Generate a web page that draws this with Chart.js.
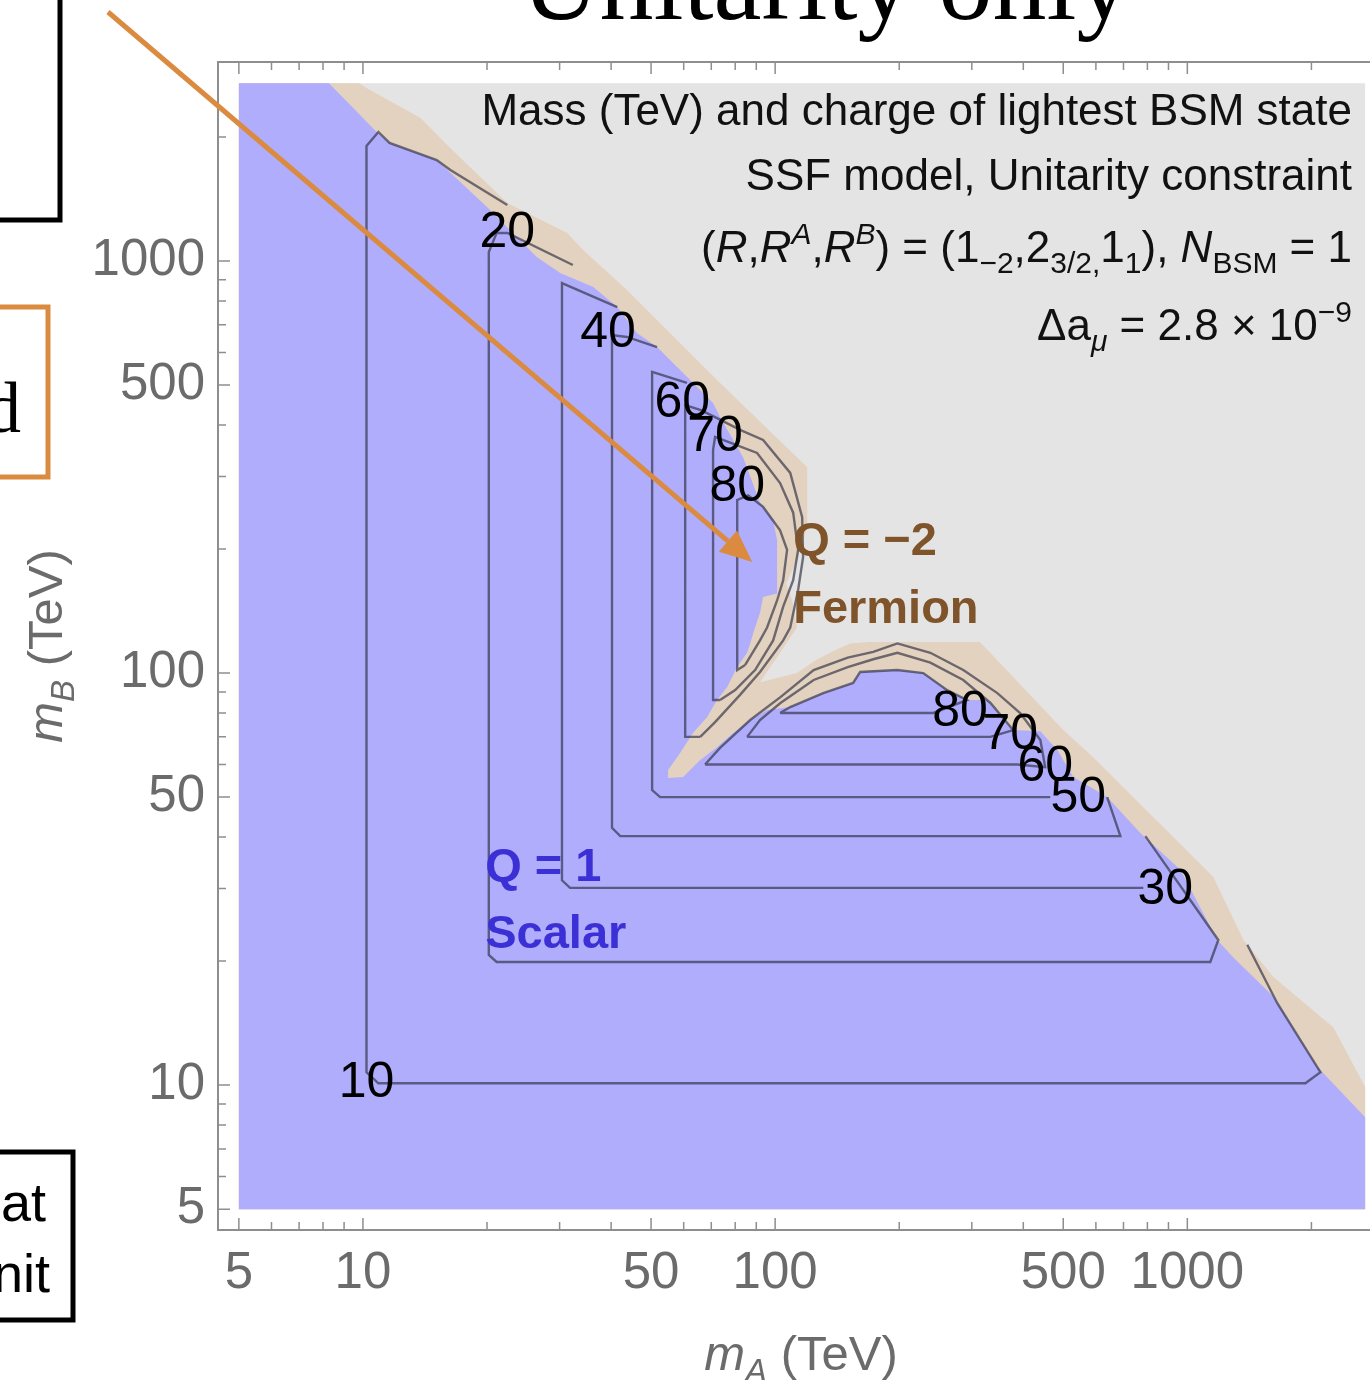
<!DOCTYPE html>
<html>
<head>
<meta charset="utf-8">
<title>Mass and charge of lightest BSM state</title>
<script src="https://cdn.jsdelivr.net/npm/chart.js@4.4.1/dist/chart.umd.min.js"></script>
<style>
  html, body { margin: 0; padding: 0; background: #fff; overflow: hidden; }
  #wrap { position: absolute; left: 0; top: 0; width: 1390px; height: 1380px; }
</style>
</head>
<body>
<div id="wrap"><canvas id="massChart" width="1390" height="1380"></canvas></div>
<script>
'use strict';

// tick values (TeV), same on both axes
const majorTicks = [5, 10, 50, 100, 500, 1000];
const minorTicks = [6, 7, 8, 9, 20, 30, 40, 60, 70, 80, 90, 200, 300, 400, 600, 700, 800, 900, 2000];

// regions, [mA, mB] in TeV
const excludedRegion = [[5, 5], [5, 2700], [2700, 2700], [2700, 5]];

const fermionRegion = [
  [5, 5], [5, 2700], [9.8, 2700], [10.2, 2630], [13.8, 2224], [16.0, 1912], [22.4, 1383],
  [31.3, 1169], [34.2, 1063], [43.7, 850], [73.5, 506], [119.6, 316], [119.6, 226],
  [113, 188], [106.3, 165], [110, 150], [113, 129], [91.9, 95], [113, 100], [126.5, 108],
  [141, 114], [152, 118], [170, 119], [314, 119], [500, 72.7], [591, 62.5], [827, 44.7],
  [1156, 32.0], [1368, 22.5], [1617, 18.3], [2262, 13.8], [2700, 9.9], [2700, 5]
];

const scalarRegion = [
  [5, 5], [5, 2700], [8.27, 2700], [10.8, 2056], [11.6, 1934], [15.1, 1758], [20.0, 1352],
  [26.4, 1023], [30.1, 935], [36.2, 865], [41.4, 773], [46.2, 669], [51.7, 618], [62.2, 514],
  [70.7, 452], [73.5, 418], [83.6, 334], [91.9, 259], [98.9, 235], [101.1, 210], [101.1, 156],
  [93.5, 153], [91.9, 140], [88.5, 125], [87.0, 118], [85.5, 112], [80.9, 103.4], [76.5, 92.5],
  [72.3, 86.0], [68.4, 78.2], [63.2, 71.5], [58.8, 64.0], [55.0, 58.2], [55.0, 55.6],
  [59.8, 55.9], [65.8, 61.5], [72.3, 66.1], [79.1, 71.5], [87.0, 76.9], [95.6, 81.3],
  [108.8, 82.7], [130.8, 89.4], [154.6, 94.6], [160.8, 100.6], [197.8, 101.7], [228.7, 100],
  [261.5, 90.9], [292.4, 86.0], [327, 86.0], [378, 72.7], [440, 72.2], [484, 65.0], [529, 55.9],
  [639, 50], [769, 40.9], [962, 33.3], [1182, 22.5], [1293, 20.4], [1617, 16.4], [2068, 11.06],
  [2700, 8.36], [2700, 5]
];

// mass contours (TeV)
const contour10 = [[22.4, 1368], [16.3, 1663], [15.1, 1758], [11.6, 1934], [10.9, 2056], [10.2, 1901],
  [10.2, 10.75], [10.9, 10.1], [1934, 10.1], [2103, 10.75], [1653, 15.8], [1398, 21.9]];
const contour20 = [[32.3, 978], [22.4, 1169], [21.1, 1169], [20.2, 1051], [20.2, 20.7], [21.1, 19.9],
  [1137, 19.9], [1189, 22.5], [791, 40.2]];
const contour30 = [[41.4, 773], [30.4, 884], [30.4, 31.4], [31.8, 30.1], [782, 30.1]];
const contour40 = [[51.7, 618], [43.7, 654], [40.2, 661], [40.2, 42.1], [42.1, 40.2], [688, 40.2], [639, 50]];
const contour50 = [[61.1, 506], [50.3, 538], [50.3, 52], [52.6, 50], [465, 50]];
const contour60Upper = [[65.8, 70], [60.5, 70], [60.5, 447], [65.8, 435], [71.5, 418], [82.2, 389],
  [93.5, 368], [108.8, 306], [116.3, 239], [116.9, 191], [113.7, 159], [108.8, 129], [104.6, 120],
  [91.9, 100.6], [82.2, 88.5], [71.5, 76.0], [65.8, 70]];
const contour60Lower = [[67.6, 60], [387, 60], [452, 59.1], [440, 68.8], [393, 80], [346, 89.4],
  [286, 101.7], [238, 112], [198, 118], [173, 112.5], [150, 109], [124, 101.7], [103, 87.4],
  [87, 76.9], [73.5, 65.8], [67.6, 60]];
const contour70Upper = [[73.5, 86], [70.7, 86], [70.7, 348], [71.5, 374], [90.4, 342], [102.8, 289],
  [110.6, 245], [113.7, 199], [110.6, 168], [104.6, 145], [98.9, 120], [89.4, 101.7], [80, 90.9], [73.5, 86]];
const contour70Lower = [[85.5, 70], [333, 70], [378, 72.7], [333, 84.6], [286, 96.2], [238, 106],
  [198, 112], [173, 108], [150, 103.4], [124, 96.2], [103, 84.6], [91.9, 76.9], [85.5, 70]];
const contour80Upper = [[84.6, 104.6], [80.9, 101.7], [80.9, 263], [86, 270], [93.5, 253], [102.8, 222],
  [106.9, 199], [104.6, 168], [101.1, 150], [95.6, 129], [91.9, 120], [84.6, 104.6]];
const contour80Lower = [[102.8, 80], [242, 80], [292, 86], [261.5, 90.9], [228.7, 100], [197.8, 101.7],
  [160.8, 100.6], [154.6, 94.6], [130.8, 89.4], [108.8, 82.7], [102.8, 80]];

const contours = [contour10, contour20, contour30, contour40, contour50, contour60Upper, contour60Lower,
  contour70Upper, contour70Lower, contour80Upper, contour80Lower];

// contour labels: text, mA, mB
const contourLabels = [
  ['10', 10.2, 10.1], ['20', 22.4, 1169], ['40', 39.3, 669], ['60', 59.5, 452], ['70', 71.5, 374],
  ['80', 80.9, 283], ['80', 281, 80.4], ['70', 372, 70.7], ['60', 452, 59.1], ['50', 544, 49.7],
  ['30', 884, 29.7]
];

// region names: text, left edge mA, centre mB
const regionNames = [['Q = \u22122', 110.6, 208], ['Fermion', 110.6, 142.2], ['Q = 1', 19.8, 33.6], ['Scalar', 19.8, 23.1]];
const regionColors = ['#80542b', '#80542b', '#3b2fd6', '#3b2fd6'];

const arrowTip = [88, 186];

const SANS = '"Liberation Sans", Arial, Helvetica, sans-serif';
const SERIF = '"Liberation Serif", "Times New Roman", serif';

const toPoints = arr => arr.map(p => ({ x: p[0], y: p[1] }));

function regionDataset(points, color, order) {
  return {
    data: toPoints(points),
    fill: 'shape',
    backgroundColor: color,
    borderColor: 'rgba(0,0,0,0)',
    borderWidth: 0,
    pointRadius: 0,
    order: order
  };
}

function fontOf(run, base) {
  let size = run.sub || run.sup ? Math.round(base * 0.68) : base;
  return (run.it ? 'italic ' : '') + (run.bold ? 'bold ' : '') + size + 'px ' + SANS;
}

// draw text runs (sub/sup/italic) aligned on one baseline
function drawRuns(ctx, runs, x, baseline, align, base) {
  let total = 0;
  runs.forEach(r => {
    ctx.font = fontOf(r, base);
    r.w = ctx.measureText(r.t).width;
    total += r.w;
  });
  let cx = align === 'right' ? x - total : align === 'center' ? x - total / 2 : x;
  ctx.textAlign = 'left';
  ctx.textBaseline = 'alphabetic';
  runs.forEach(r => {
    ctx.font = fontOf(r, base);
    let dy = r.sub ? base * 0.24 : r.sup ? -base * 0.4 : 0;
    ctx.fillText(r.t, cx, baseline + dy);
    cx += r.w;
  });
}

const infoLines = [
  [{ t: 'Mass (TeV) and charge of lightest BSM state' }],
  [{ t: 'SSF model, Unitarity constraint' }],
  [{ t: '(' }, { t: 'R', it: true }, { t: ',' }, { t: 'R', it: true }, { t: 'A', it: true, sup: true },
   { t: ',' }, { t: 'R', it: true }, { t: 'B', it: true, sup: true }, { t: ') = (1' },
   { t: '\u22122', sub: true }, { t: ',2' }, { t: '3/2,', sub: true }, { t: '1' }, { t: '1', sub: true },
   { t: '), ' }, { t: 'N', it: true }, { t: 'BSM', sub: true }, { t: ' = 1' }],
  [{ t: '\u0394a' }, { t: '\u03bc', sub: true, it: true }, { t: ' = 2.8 \u00d7 10' }, { t: '\u22129', sup: true }]
];
const infoOffsets = [63, 128, 200, 278];

const decorPlugin = {
  id: 'decor',
  afterDatasetsDraw(chart) {
    const { ctx, scales: { x, y } } = chart;
    ctx.save();
    // contour labels
    ctx.font = '50px ' + SANS;
    ctx.fillStyle = '#000';
    ctx.textAlign = 'center';
    ctx.textBaseline = 'middle';
    contourLabels.forEach(([t, vx, vy]) => ctx.fillText(t, x.getPixelForValue(vx), y.getPixelForValue(vy)));

    // region names
    ctx.font = 'bold 47px ' + SANS;
    ctx.textAlign = 'left';
    regionNames.forEach(([t, vx, vy], i) => {
      ctx.fillStyle = regionColors[i];
      ctx.fillText(t, x.getPixelForValue(vx), y.getPixelForValue(vy));
    });

    // info block, top right
    ctx.fillStyle = '#111';
    const area = chart.chartArea;
    infoLines.forEach((runs, i) => drawRuns(ctx, runs, area.right - 32, area.top + infoOffsets[i], 'right', 44));
    ctx.restore();
  },
  afterDraw(chart) {
    const { ctx, chartArea: a, scales: { x, y } } = chart;
    ctx.save();

    // frame with inward ticks
    ctx.strokeStyle = '#8e8e8e';
    ctx.lineWidth = 2;
    ctx.strokeRect(a.left, a.top, a.right - a.left, a.bottom - a.top);
    ctx.lineWidth = 1.5;
    const tick = (vals, len) => {
      vals.forEach(v => {
        let px = x.getPixelForValue(v);
        let py = y.getPixelForValue(v);
        ctx.beginPath();
        ctx.moveTo(px, a.bottom); ctx.lineTo(px, a.bottom - len);
        ctx.moveTo(px, a.top); ctx.lineTo(px, a.top + len);
        ctx.moveTo(a.left, py); ctx.lineTo(a.left + len, py);
        ctx.moveTo(a.right, py); ctx.lineTo(a.right - len, py);
        ctx.stroke();
      });
    };
    tick(majorTicks, 12);
    tick(minorTicks, 8);

    // axis titles
    ctx.fillStyle = '#6b6b6b';
    drawRuns(ctx, [{ t: 'm', it: true }, { t: 'A', it: true, sub: true }, { t: ' (TeV)' }],
      (a.left + a.right) / 2, 1370, 'center', 49);
    ctx.save();
    ctx.translate(62, (a.top + a.bottom) / 2);
    ctx.rotate(-Math.PI / 2);
    drawRuns(ctx, [{ t: 'm', it: true }, { t: 'B', it: true, sub: true }, { t: ' (TeV)' }], 0, 0, 'center', 49);
    ctx.restore();

    // slide title, cut off at the top
    ctx.fillStyle = '#000';
    ctx.font = '108px ' + SERIF;
    ctx.textAlign = 'center';
    ctx.textBaseline = 'alphabetic';
    ctx.fillText('Unitarity only', 826, 19);

    // neighbouring slide boxes
    ctx.lineWidth = 5;
    ctx.strokeStyle = '#000';
    ctx.strokeRect(-10, -10, 70, 230);
    ctx.strokeRect(-10, 1152, 83, 168);
    ctx.strokeStyle = '#da8b40';
    ctx.strokeRect(-10, 307, 58, 170);
    ctx.font = '72px ' + SERIF;
    ctx.textAlign = 'right';
    ctx.fillText('d', 21, 432);
    ctx.font = '54px ' + SANS;
    ctx.fillText('at', 46, 1221);
    ctx.fillText('nit', 50, 1292);

    // orange arrow
    const sx = 108, sy = 12;
    const tx = x.getPixelForValue(arrowTip[0]), ty = y.getPixelForValue(arrowTip[1]);
    const ang = Math.atan2(ty - sy, tx - sx);
    const headLen = 32, headW = 14;
    const bx = tx - headLen * Math.cos(ang), by = ty - headLen * Math.sin(ang);
    ctx.strokeStyle = '#da8b40';
    ctx.fillStyle = '#da8b40';
    ctx.lineWidth = 5;
    ctx.beginPath();
    ctx.moveTo(sx, sy);
    ctx.lineTo(bx, by);
    ctx.stroke();
    ctx.beginPath();
    ctx.moveTo(tx, ty);
    ctx.lineTo(bx + headW * Math.sin(ang), by - headW * Math.cos(ang));
    ctx.lineTo(bx - headW * Math.sin(ang), by + headW * Math.cos(ang));
    ctx.closePath();
    ctx.fill();
    ctx.restore();
  }
};

let datasets = [
  regionDataset(excludedRegion, '#e4e4e4', 30),
  regionDataset(fermionRegion, '#e3d2bf', 20),
  regionDataset(scalarRegion, '#b0aefc', 10)
];
contours.forEach(c => {
  datasets.push({
    data: toPoints(c),
    fill: false,
    borderColor: 'rgba(45,45,65,0.65)',
    borderWidth: 2.4,
    pointRadius: 0,
    order: 0
  });
});

const axisTicks = {
  autoSkip: false,
  maxRotation: 0,
  padding: 13,
  color: '#6b6b6b',
  font: { family: SANS, size: 51 },
  callback: v => String(v)
};

let ctx = document.getElementById('massChart');
let massChart = new Chart(ctx, {
  type: 'line',
  data: { datasets: datasets },
  options: {
    responsive: false,
    animation: false,
    layout: { padding: { left: 0, top: 62, right: 6, bottom: 0 } },
    plugins: { legend: { display: false }, tooltip: { enabled: false } },
    elements: { point: { radius: 0 }, line: { tension: 0 } },
    scales: {
      x: {
        type: 'logarithmic',
        min: 4.45,
        max: 3000,
        grid: { display: false, drawTicks: false },
        border: { display: false },
        afterBuildTicks: s => { s.ticks = majorTicks.map(v => ({ value: v })); },
        afterFit: s => { s.height = 150; },
        ticks: axisTicks
      },
      y: {
        type: 'logarithmic',
        min: 4.45,
        max: 3040,
        grid: { display: false, drawTicks: false },
        border: { display: false },
        afterBuildTicks: s => { s.ticks = majorTicks.map(v => ({ value: v })); },
        afterFit: s => { s.width = 218; },
        ticks: axisTicks
      }
    }
  },
  plugins: [decorPlugin]
});
</script>
</body>
</html>
